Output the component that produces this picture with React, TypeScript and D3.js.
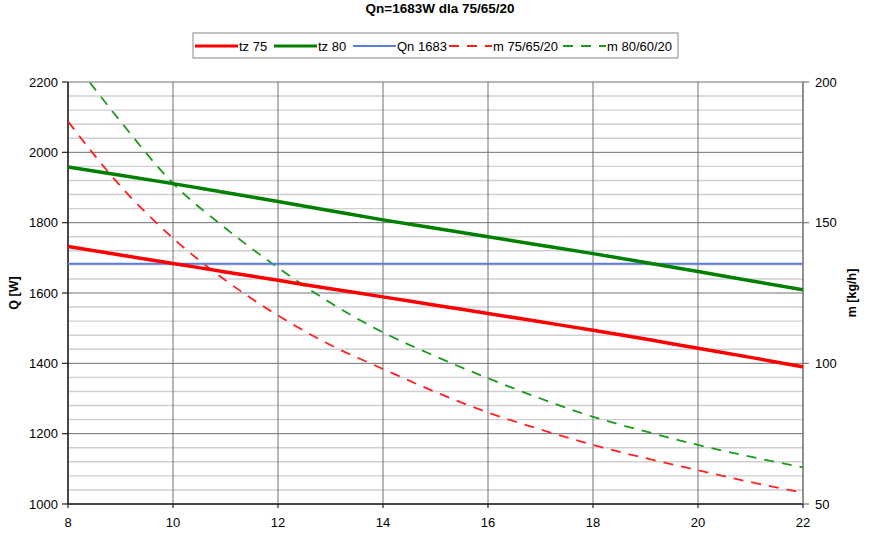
import React from 'react'
import * as d3 from 'd3'

// temperatura pomieszczenia
const tp = [8, 9, 10, 11, 12, 13, 14, 15, 16, 17, 18, 19, 20, 21, 22]
// moc grzejnika [W]
const tz75 = [1732, 1708, 1684, 1660, 1636, 1612, 1589, 1565, 1542, 1518, 1494, 1469, 1443, 1417, 1390]
const tz80 = [1958, 1935, 1911, 1886, 1860, 1834, 1808, 1784, 1760, 1736, 1712, 1687, 1661, 1635, 1609]
const qn = 1683
// przeplyw [kg/h]
const m756520 = [186, 163, 144.5, 129.5, 117, 106.5, 98, 89.8, 82.5, 76.5, 71, 66.3, 62, 57.8, 54]
const m806020 = [210, 186, 164, 148, 134, 121.5, 111, 102.5, 94.7, 87.5, 81, 75.8, 71, 66.8, 63]

const xTicks = [8, 10, 12, 14, 16, 18, 20, 22]
const qTicks = [1000, 1200, 1400, 1600, 1800, 2000, 2200]
const mTicks = [50, 100, 150, 200]

const legendItems = [
  { label: 'tz 75', color: '#ff0000', width: 3, dash: '' },
  { label: 'tz 80', color: '#008000', width: 3, dash: '' },
  { label: 'Qn 1683', color: '#5b7fd6', width: 2, dash: '' },
  { label: 'm 75/65/20', color: '#ff2020', width: 1.8, dash: '10,8' },
  { label: 'm 80/60/20', color: '#1a9a1a', width: 1.8, dash: '10,8' },
]

export default function App() {
  const left = 68, right = 803, top = 82, bottom = 504
  const x = d3.scaleLinear().domain([8, 22]).range([left, right])
  const yQ = d3.scaleLinear().domain([1000, 2200]).range([bottom, top])
  const yM = d3.scaleLinear().domain([50, 200]).range([bottom, top])

  const lineQ = d3.line<number>().x((_, i) => x(tp[i])).y((d) => yQ(d)).curve(d3.curveMonotoneX)
  const lineM = d3.line<number>().x((_, i) => x(tp[i])).y((d) => yM(d)).curve(d3.curveMonotoneX)

  const minorQ = d3.range(1000, 2201, 40).filter((v) => v % 200 !== 0)
  const font = '"Liberation Sans", Arial, sans-serif'

  // legenda - pozycje elementow
  const legendX = [195, 274, 353, 449, 563]

  return (
    <svg width={880} height={540} style={{ position: 'absolute', left: 0, top: 0, background: '#fff' }} fontFamily={font}>
      <defs>
        <clipPath id="plot">
          <rect x={left} y={top} width={right - left} height={bottom - top} />
        </clipPath>
      </defs>
      <text x={440} y={13} textAnchor="middle" fontSize={13.5} fontWeight="bold">Qn=1683W dla 75/65/20</text>

      {/* legenda */}
      <rect x={193} y={33} width={485} height={25} fill="#fff" stroke="#888" strokeWidth={1} />
      {legendItems.map((d, i) => (
        <g key={d.label}>
          <line x1={legendX[i]} x2={legendX[i] + 43} y1={46} y2={46} stroke={d.color} strokeWidth={d.width} strokeDasharray={d.dash} />
          <text x={legendX[i] + 44} y={50.5} fontSize={13}>{d.label}</text>
        </g>
      ))}

      {/* siatka */}
      {minorQ.map((v) => (
        <line key={'m' + v} x1={left} x2={right} y1={yQ(v)} y2={yQ(v)} stroke="#cfcfcf" strokeWidth={1.4} />
      ))}
      {qTicks.map((v) => (
        <line key={'q' + v} x1={left} x2={right} y1={yQ(v)} y2={yQ(v)} stroke="#707070" strokeWidth={1} />
      ))}
      {xTicks.map((v) => (
        <line key={'x' + v} x1={x(v)} x2={x(v)} y1={top} y2={bottom} stroke="#707070" strokeWidth={1} />
      ))}

      {/* osie */}
      <line x1={left} x2={left} y1={top} y2={bottom} stroke="#222" strokeWidth={1.5} />
      <line x1={left} x2={right} y1={bottom} y2={bottom} stroke="#222" strokeWidth={1.5} />
      <line x1={right} x2={right} y1={top} y2={bottom} stroke="#777" strokeWidth={1.2} />
      {qTicks.map((v) => (
        <g key={'ql' + v}>
          <line x1={left - 6} x2={left} y1={yQ(v)} y2={yQ(v)} stroke="#222" strokeWidth={1.2} />
          <text x={left - 10} y={yQ(v) + 4.5} textAnchor="end" fontSize={13}>{v}</text>
        </g>
      ))}
      {mTicks.map((v) => (
        <g key={'ml' + v}>
          <line x1={right} x2={right + 6} y1={yM(v)} y2={yM(v)} stroke="#777" strokeWidth={1.2} />
          <text x={right + 12} y={yM(v) + 4.5} fontSize={13}>{v}</text>
        </g>
      ))}
      {xTicks.map((v) => (
        <g key={'xl' + v}>
          <line x1={x(v)} x2={x(v)} y1={bottom} y2={bottom + 4} stroke="#222" strokeWidth={1.2} />
          <text x={x(v)} y={527} textAnchor="middle" fontSize={13}>{v}</text>
        </g>
      ))}
      <text transform="translate(18,293) rotate(-90)" textAnchor="middle" fontSize={12.5} fontWeight="bold">Q [W]</text>
      <text transform="translate(856,293) rotate(-90)" textAnchor="middle" fontSize={12.5} fontWeight="bold">m [kg/h]</text>

      {/* serie */}
      <g clipPath="url(#plot)" fill="none">
        <path d={lineM(m756520) ?? ''} stroke="#ff2020" strokeWidth={1.8} strokeDasharray="10,8" />
        <path d={lineM(m806020) ?? ''} stroke="#1a9a1a" strokeWidth={1.8} strokeDasharray="10,8" />
        <line x1={x(8)} x2={x(22)} y1={yQ(qn)} y2={yQ(qn)} stroke="#5b7fd6" strokeWidth={2} />
        <path d={lineQ(tz80) ?? ''} stroke="#008000" strokeWidth={3.5} />
        <path d={lineQ(tz75) ?? ''} stroke="#ff0000" strokeWidth={3.5} />
      </g>
    </svg>
  )
}
